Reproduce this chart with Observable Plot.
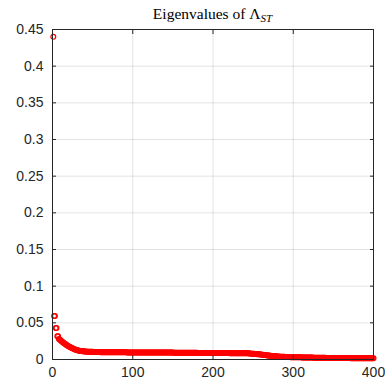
<!DOCTYPE html>
<html>
<head>
<meta charset="utf-8">
<script src="https://cdn.jsdelivr.net/npm/d3@7"></script>
<script src="https://cdn.jsdelivr.net/npm/@observablehq/plot@0.6"></script>
<style>
  html, body { margin: 0; padding: 0; background: #fff; }
  #chart { width: 385px; height: 382px; }
</style>
</head>
<body>
<div id="chart"></div>
<script>
// Eigenvalues (sorted), indices 1..400
const eigenvalues = [
  0.4400,0.0594,0.0594,0.0428,0.0428,0.0317,0.0317,0.0280,0.0272,0.0262,0.0252,0.0243,0.0234,0.0226,0.0218,0.0210,0.0202,0.0195,0.0188,0.0181,
  0.0175,0.0169,0.0163,0.0157,0.0152,0.0147,0.0142,0.0138,0.0134,0.0130,0.0127,0.0124,0.0121,0.0119,0.0117,0.0115,0.0113,0.0112,0.0111,0.0110,
  0.0109,0.0108,0.0107,0.0107,0.0106,0.0106,0.0105,0.0105,0.0104,0.0104,0.0103,0.0103,0.0103,0.0102,0.0102,0.0102,0.0101,0.0101,0.0101,0.0100,
  0.0100,0.0100,0.0100,0.0100,0.0100,0.0100,0.0100,0.0100,0.0099,0.0099,0.0099,0.0099,0.0099,0.0099,0.0099,0.0099,0.0099,0.0099,0.0098,0.0098,
  0.0098,0.0098,0.0098,0.0098,0.0098,0.0098,0.0098,0.0098,0.0098,0.0098,0.0098,0.0098,0.0097,0.0097,0.0097,0.0097,0.0097,0.0097,0.0097,0.0097,
  0.0097,0.0097,0.0097,0.0097,0.0097,0.0096,0.0096,0.0096,0.0096,0.0096,0.0096,0.0096,0.0096,0.0096,0.0096,0.0096,0.0096,0.0096,0.0096,0.0096,
  0.0096,0.0096,0.0095,0.0095,0.0095,0.0095,0.0095,0.0095,0.0095,0.0095,0.0095,0.0095,0.0095,0.0095,0.0095,0.0095,0.0095,0.0095,0.0095,0.0095,
  0.0094,0.0094,0.0094,0.0094,0.0094,0.0094,0.0094,0.0094,0.0094,0.0094,0.0093,0.0093,0.0093,0.0093,0.0093,0.0093,0.0093,0.0093,0.0093,0.0093,
  0.0092,0.0092,0.0092,0.0092,0.0092,0.0092,0.0092,0.0092,0.0092,0.0092,0.0091,0.0091,0.0091,0.0091,0.0091,0.0091,0.0091,0.0091,0.0091,0.0091,
  0.0090,0.0090,0.0090,0.0090,0.0090,0.0090,0.0090,0.0090,0.0090,0.0090,0.0089,0.0089,0.0089,0.0089,0.0089,0.0089,0.0089,0.0089,0.0089,0.0089,
  0.0088,0.0088,0.0088,0.0088,0.0088,0.0088,0.0088,0.0088,0.0088,0.0088,0.0087,0.0087,0.0087,0.0087,0.0087,0.0087,0.0087,0.0087,0.0087,0.0087,
  0.0086,0.0086,0.0086,0.0086,0.0086,0.0086,0.0086,0.0086,0.0086,0.0086,0.0086,0.0086,0.0085,0.0085,0.0085,0.0085,0.0085,0.0085,0.0085,0.0085,
  0.0085,0.0085,0.0084,0.0084,0.0083,0.0082,0.0081,0.0080,0.0079,0.0078,0.0077,0.0076,0.0075,0.0074,0.0073,0.0072,0.0071,0.0070,0.0069,0.0068,
  0.0066,0.0065,0.0063,0.0062,0.0060,0.0059,0.0057,0.0056,0.0054,0.0053,0.0052,0.0050,0.0049,0.0048,0.0047,0.0046,0.0045,0.0044,0.0043,0.0042,
  0.0041,0.0040,0.0039,0.0039,0.0038,0.0037,0.0037,0.0036,0.0036,0.0035,0.0035,0.0034,0.0034,0.0033,0.0033,0.0033,0.0032,0.0032,0.0032,0.0031,
  0.0031,0.0031,0.0030,0.0030,0.0030,0.0030,0.0029,0.0029,0.0029,0.0029,0.0028,0.0028,0.0028,0.0028,0.0027,0.0027,0.0027,0.0027,0.0027,0.0026,
  0.0026,0.0026,0.0026,0.0026,0.0025,0.0025,0.0025,0.0025,0.0025,0.0024,0.0024,0.0024,0.0024,0.0024,0.0023,0.0023,0.0023,0.0023,0.0023,0.0023,
  0.0022,0.0022,0.0022,0.0022,0.0022,0.0022,0.0021,0.0021,0.0021,0.0021,0.0021,0.0021,0.0020,0.0020,0.0020,0.0020,0.0020,0.0020,0.0020,0.0020,
  0.0019,0.0019,0.0019,0.0019,0.0019,0.0019,0.0019,0.0019,0.0019,0.0019,0.0019,0.0018,0.0018,0.0018,0.0018,0.0018,0.0018,0.0018,0.0018,0.0018,
  0.0018,0.0018,0.0018,0.0018,0.0018,0.0017,0.0017,0.0017,0.0017,0.0017,0.0017,0.0017,0.0017,0.0017,0.0017,0.0017,0.0017,0.0017,0.0017,0.0017
];
const xTicks = [0, 100, 200, 300, 400];
const yTicks = [0, 0.05, 0.1, 0.15, 0.2, 0.25, 0.3, 0.35, 0.4, 0.45];
const yTickLabels = ["0", "0.05", "0.1", "0.15", "0.2", "0.25", "0.3", "0.35", "0.4", "0.45"];
const titleMain = "Eigenvalues of Λ";
const titleSub = "ST";

const data = eigenvalues.map((v, i) => ({index: i + 1, value: v}));
const axisColor = "#262626";

const plot = Plot.plot({
  width: 385,
  height: 382,
  marginLeft: 52,
  marginRight: 12,
  marginTop: 29,
  marginBottom: 23,
  style: {fontFamily: "'Liberation Sans', Arial, sans-serif", fontSize: "14px", color: axisColor, background: "#fff"},
  x: {domain: [0, 400], ticks: xTicks},
  y: {domain: [0, 0.45], ticks: yTicks},
  marks: [
    Plot.gridX(xTicks, {stroke: "#000", strokeOpacity: 0.11, strokeWidth: 1}),
    Plot.gridY(yTicks, {stroke: "#000", strokeOpacity: 0.11, strokeWidth: 1}),
    Plot.dot(data, {x: "index", y: "value", r: 2.4, stroke: "#ff0000", strokeWidth: 1.2, fill: "none"}),
    Plot.frame({stroke: axisColor, strokeWidth: 1}),
    Plot.axisX(xTicks, {anchor: "bottom", tickSize: -4, tickPadding: 12, fontSize: 14, label: null, stroke: axisColor}),
    Plot.axisX(xTicks, {anchor: "top", tickSize: -4, tickFormat: () => "", label: null, stroke: axisColor}),
    Plot.axisY(yTicks, {anchor: "left", tickSize: -4, tickPadding: 13, fontSize: 14, label: null, stroke: axisColor,
      tickFormat: (d) => yTickLabels[yTicks.indexOf(d)]}),
    Plot.axisY(yTicks, {anchor: "right", tickSize: -4, tickFormat: () => "", label: null, stroke: axisColor})
  ]
});

document.getElementById("chart").appendChild(plot);

// Title with subscript (LaTeX-like)
const svg = d3.select(plot);
const t = svg.append("text")
  .attr("x", (52 + 373) / 2)
  .attr("y", 19)
  .attr("text-anchor", "middle")
  .attr("font-family", "'Liberation Serif', 'DejaVu Serif', serif")
  .attr("font-size", 15.5)
  .attr("fill", "#000");
t.append("tspan").text(titleMain);
t.append("tspan").attr("dy", 3).attr("font-size", 11).attr("font-style", "italic").text(titleSub);
</script>
</body>
</html>
